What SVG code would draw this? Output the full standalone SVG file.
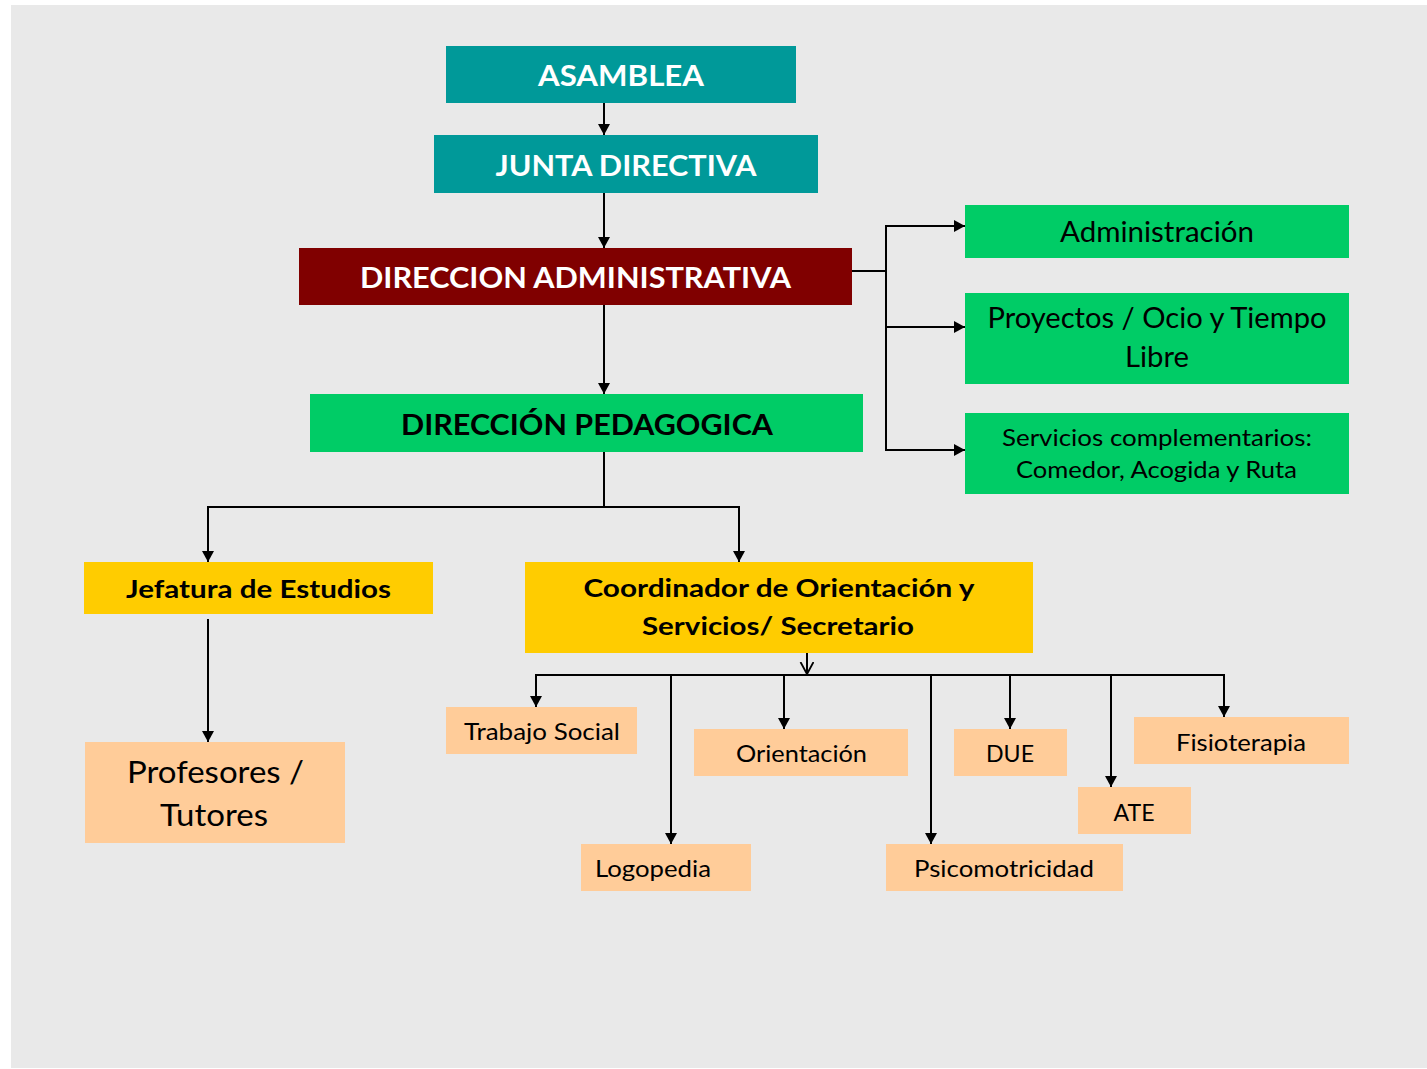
<svg xmlns="http://www.w3.org/2000/svg" width="1427" height="1069" viewBox="0 0 1427 1069">
<defs>
<style>
.t{font-family:Lato,"Liberation Sans",sans-serif;text-anchor:middle}
.hw{font-weight:bold;fill:#ffffff;font-size:29px}
.hb{font-weight:bold;fill:#000000;font-size:29px}
.yb{font-weight:bold;fill:#000000;font-size:24.5px}
.g{fill:#000000;font-size:28.5px}
.gs{fill:#000000;font-size:24px}
.s{fill:#000000;font-size:24px}
.p{fill:#000000;font-size:31px}
.c{fill:none;stroke:#000000;stroke-width:2}
.a{fill:none;stroke:#000000;stroke-width:2;marker-end:url(#arr)}
</style>
<marker id="arr" markerUnits="userSpaceOnUse" markerWidth="12" markerHeight="12" refX="11" refY="6" orient="auto">
<path d="M0,0 L11,6 L0,12 z" fill="#000000"/>
</marker>
<marker id="open" markerUnits="userSpaceOnUse" markerWidth="14" markerHeight="16" refX="12" refY="7" orient="auto">
<path d="M0,0.5 L12,7 L0,13.5" fill="none" stroke="#000000" stroke-width="1.8"/>
</marker>
</defs>
<rect x="0" y="0" width="1427" height="1069" fill="#ffffff"/>
<rect x="11" y="5" width="1416" height="1063" fill="#e9e9e9"/>

<g id="connectors">
<path class="a" d="M604 103 V135"/>
<path class="a" d="M604 181 V248"/>
<path class="a" d="M604 305 V394"/>
<path class="c" d="M852 271 H886 M886 226 V450"/>
<path class="a" d="M885 226 H965"/>
<path class="a" d="M885 327 H965"/>
<path class="a" d="M885 450 H965"/>
<path class="c" d="M604 452 V507 M207 507 H740"/>
<path class="a" d="M208 506 V562"/>
<path class="a" d="M739 506 V562"/>
<path class="a" d="M208 619 V742"/>
<path class="c" d="M807 653 V674" marker-end="url(#open)"/>
<path class="c" d="M535 675 H1225"/>
<path class="a" d="M536 674 V707"/>
<path class="a" d="M671 675 V844"/>
<path class="a" d="M784 675 V729"/>
<path class="a" d="M931 675 V844"/>
<path class="a" d="M1010 675 V729"/>
<path class="a" d="M1111 675 V787"/>
<path class="a" d="M1224 674 V717"/>
</g>

<g id="asamblea">
<rect x="446" y="46" width="350" height="57" fill="#009999"/>
<text class="t hw" x="621" y="86" textLength="166" lengthAdjust="spacingAndGlyphs">ASAMBLEA</text>
</g>
<g id="junta">
<rect x="434" y="135" width="384" height="58" fill="#009999"/>
<text class="t hw" x="626" y="176" textLength="261" lengthAdjust="spacingAndGlyphs">JUNTA DIRECTIVA</text>
</g>
<g id="direccion-administrativa">
<rect x="299" y="248" width="553" height="57" fill="#800000"/>
<text class="t hw" x="575.5" y="288" textLength="431" lengthAdjust="spacingAndGlyphs">DIRECCION ADMINISTRATIVA</text>
</g>
<g id="direccion-pedagogica">
<rect x="310" y="394" width="553" height="58" fill="#00cc66"/>
<text class="t hb" x="587" y="435" textLength="372" lengthAdjust="spacingAndGlyphs">DIRECCIÓN PEDAGOGICA</text>
</g>
<g id="administracion">
<rect x="965" y="205" width="384" height="53" fill="#00cc66"/>
<text class="t g" x="1157" y="242" textLength="194" lengthAdjust="spacingAndGlyphs">Administración</text>
</g>
<g id="proyectos">
<rect x="965" y="293" width="384" height="91" fill="#00cc66"/>
<text class="t g" x="1157" y="328" textLength="339" lengthAdjust="spacingAndGlyphs">Proyectos / Ocio y Tiempo</text>
<text class="t g" x="1157" y="367" textLength="64" lengthAdjust="spacingAndGlyphs">Libre</text>
</g>
<g id="servicios">
<rect x="965" y="413" width="384" height="81" fill="#00cc66"/>
<text class="t gs" x="1157" y="446" textLength="310" lengthAdjust="spacingAndGlyphs">Servicios complementarios:</text>
<text class="t gs" x="1156.5" y="478" textLength="281" lengthAdjust="spacingAndGlyphs">Comedor, Acogida y Ruta</text>
</g>
<g id="jefatura">
<rect x="84" y="562" width="349" height="52" fill="#ffcc00"/>
<text class="t yb" x="258.5" y="598" textLength="265" lengthAdjust="spacingAndGlyphs">Jefatura de Estudios</text>
</g>
<g id="coordinador">
<rect x="525" y="562" width="508" height="91" fill="#ffcc00"/>
<text class="t yb" x="779" y="597" textLength="391" lengthAdjust="spacingAndGlyphs">Coordinador de Orientación y</text>
<text class="t yb" x="778" y="635" textLength="272" lengthAdjust="spacingAndGlyphs">Servicios/ Secretario</text>
</g>
<g id="profesores">
<rect x="85" y="742" width="260" height="101" fill="#ffcc99"/>
<text class="t p" x="215.5" y="783" textLength="177" lengthAdjust="spacingAndGlyphs">Profesores /</text>
<text class="t p" x="214" y="826" textLength="108" lengthAdjust="spacingAndGlyphs">Tutores</text>
</g>
<g id="trabajo-social">
<rect x="446" y="707" width="191" height="47" fill="#ffcc99"/>
<text class="t s" x="542" y="740" textLength="156" lengthAdjust="spacingAndGlyphs">Trabajo Social</text>
</g>
<g id="orientacion">
<rect x="694" y="729" width="214" height="47" fill="#ffcc99"/>
<text class="t s" x="801.5" y="762" textLength="131" lengthAdjust="spacingAndGlyphs">Orientación</text>
</g>
<g id="due">
<rect x="954" y="729" width="113" height="47" fill="#ffcc99"/>
<text class="t s" x="1010" y="762" textLength="48" lengthAdjust="spacingAndGlyphs">DUE</text>
</g>
<g id="fisioterapia">
<rect x="1134" y="717" width="215" height="47" fill="#ffcc99"/>
<text class="t s" x="1241" y="751" textLength="130" lengthAdjust="spacingAndGlyphs">Fisioterapia</text>
</g>
<g id="ate">
<rect x="1078" y="787" width="113" height="47" fill="#ffcc99"/>
<text class="t s" x="1134" y="821" textLength="41" lengthAdjust="spacingAndGlyphs">ATE</text>
</g>
<g id="logopedia">
<rect x="581" y="844" width="170" height="47" fill="#ffcc99"/>
<text class="t s" x="653" y="877" textLength="116" lengthAdjust="spacingAndGlyphs">Logopedia</text>
</g>
<g id="psicomotricidad">
<rect x="886" y="844" width="237" height="47" fill="#ffcc99"/>
<text class="t s" x="1004" y="877" textLength="180" lengthAdjust="spacingAndGlyphs">Psicomotricidad</text>
</g>
</svg>
